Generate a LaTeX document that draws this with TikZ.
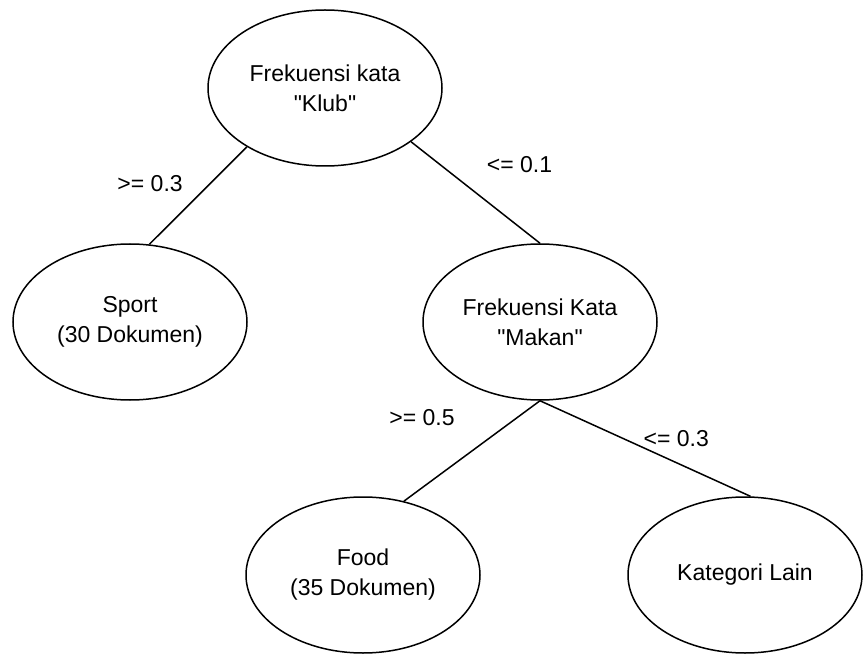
\documentclass[tikz,border=0pt]{standalone}
\usepackage{fontspec}
\setmainfont{Liberation Sans}[Ligatures=TeXOff]
\usetikzlibrary{shapes.geometric}

\begin{document}
\begin{tikzpicture}[
    x=1pt, y=-1pt,
    keputusan/.style={
        ellipse,
        draw=black,
        line width=1.5pt,
        minimum width=234pt,
        minimum height=156pt,
        inner sep=0pt,
        align=center,
        font=\fontsize{23}{30}\selectfont
    },
    cabang/.style={line width=1.5pt},
    syarat/.style={inner sep=0pt, font=\fontsize{23}{28}\selectfont}
]
\useasboundingbox (0,0) rectangle (863,655);

\node[keputusan] (klub) at (325,88)
{Frekuensi kata\\"Klub"};

\node[keputusan] (sport) at (130,322)
{Sport\\(30 Dokumen)};

\node[keputusan] (makan) at (540,322)
{Frekuensi Kata\\"Makan"};

\node[keputusan] (food) at (363,575)
{Food\\(35 Dokumen)};

\node[keputusan] (lain) at (745,575)
{Kategori Lain};

\draw[cabang] (klub.217) -- node[syarat, xshift=-48pt, yshift=12pt] (s1) {>= 0.3} (sport.76);
\draw[cabang] (klub.-32) -- node[syarat, xshift=44pt, yshift=28pt] (s2) {<= 0.1} (makan.north);
\draw[cabang] (makan.south) -- node[syarat, xshift=-50pt, yshift=33pt] (s3) {>= 0.5} (food.61);
\draw[cabang] (makan.south) -- node[syarat, xshift=31pt, yshift=10pt] (s4) {<= 0.3} (lain.86);

\end{tikzpicture}
\end{document}
